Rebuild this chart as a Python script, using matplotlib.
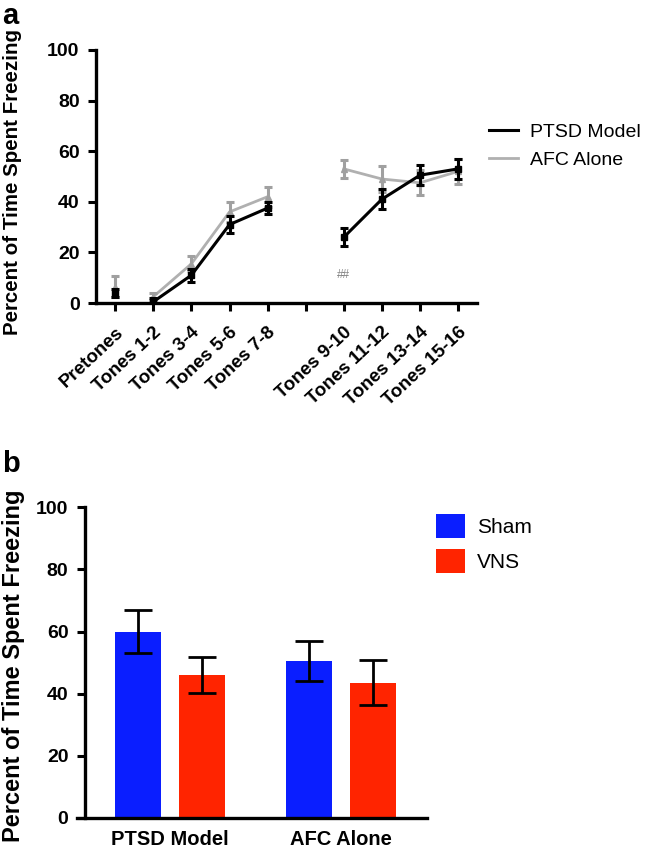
from matplotlib import pyplot as plt
import numpy as np

plt.rcParams['font.family'] = ['Liberation Sans', 'DejaVu Sans']

# panel a data
tone_labels = ['Pretones', 'Tones 1-2', 'Tones 3-4', 'Tones 5-6', 'Tones 7-8', '',
               'Tones 9-10', 'Tones 11-12', 'Tones 13-14', 'Tones 15-16']
ptsd_mean = [4, 0.5, 11, 31, 37.5, np.nan, 26, 41, 50.5, 53]
ptsd_sem = [1.5, 1.5, 2.5, 3.5, 2.5, np.nan, 3.5, 4, 4, 4]
afc_mean = [6.5, 2.5, 15.5, 36, 42, np.nan, 53, 49, 47.5, 52]
afc_sem = [4, 1.5, 3, 4, 4, np.nan, 3.5, 5, 5, 5]

# panel b data
conditions = ['PTSD Model', 'AFC Alone']
sham_mean = [60, 50.5]
sham_sem = [7, 6.5]
vns_mean = [46, 43.5]
vns_sem = [5.8, 7.2]


def style_axis(ax, size):
    for side in ['top', 'right']:
        ax.spines[side].set_visible(False)
    for side in ['left', 'bottom']:
        ax.spines[side].set_linewidth(2.4)
    ax.tick_params(width=2.2, length=6)
    ax.tick_params(axis='y', labelsize=size, pad=6)
    for lab in ax.get_yticklabels():
        lab.set_fontweight('bold')


def main():
    fig = plt.figure(figsize=(6.5, 8.55), dpi=100)

    # ---- panel a
    ax = fig.add_axes([0.148, 0.6456, 0.586, 0.296])
    x = np.arange(len(tone_labels))
    segments = [slice(1, 5), slice(6, 10)]
    for seg in segments:
        ax.plot(x[seg], np.array(afc_mean)[seg], color='#b0b0b0', lw=2, zorder=2)
        ax.plot(x[seg], np.array(ptsd_mean)[seg], color='black', lw=2.2, zorder=3)
    ax.errorbar(x, afc_mean, yerr=afc_sem, fmt='^', color='#a0a0a0', ms=4,
                elinewidth=2.2, capsize=3, capthick=2.2, zorder=2)
    ax.errorbar(x, ptsd_mean, yerr=ptsd_sem, fmt='s', color='black', ms=4,
                elinewidth=2.2, capsize=3, capthick=2.2, zorder=3)
    # legend handles
    ax.plot([], [], color='black', lw=2.2, label='PTSD Model')
    ax.plot([], [], color='#b0b0b0', lw=2, label='AFC Alone')
    ax.text(6, 11, '##', color='#808080', fontsize=8.5, ha='center', va='center')

    ax.set_xlim(-0.5, 9.5)
    ax.set_ylim(0, 100)
    ax.set_yticks([0, 20, 40, 60, 80, 100])
    ax.set_xticks(x)
    ax.set_xticklabels(tone_labels, rotation=43, ha='right', rotation_mode='anchor',
                       fontsize=13.5, fontweight='bold')
    ax.tick_params(axis='x', pad=9)
    ax.set_ylabel('Percent of Time Spent Freezing', fontsize=14.8, fontweight='bold')
    ax.yaxis.set_label_coords(-0.194, 0.478)
    style_axis(ax, 14)
    ax.legend(loc='upper left', bbox_to_anchor=(0.985, 0.78), frameon=False,
              fontsize=14, handlelength=1.5, handletextpad=0.6, labelspacing=0.55)
    fig.text(0.004, 0.998, 'a', fontsize=21, fontweight='bold', va='top')

    # ---- panel b
    bx = fig.add_axes([0.131, 0.0436, 0.526, 0.363])
    pos = np.arange(len(conditions))
    off = 0.187
    w = 0.27
    bx.bar(pos - off, sham_mean, width=w, color='#0a1eff', label='Sham', zorder=2)
    bx.bar(pos + off, vns_mean, width=w, color='#ff2400', label='VNS', zorder=2)
    bx.errorbar(pos - off, sham_mean, yerr=sham_sem, fmt='none', ecolor='black',
                elinewidth=2, capsize=10, capthick=2, zorder=3)
    bx.errorbar(pos + off, vns_mean, yerr=vns_sem, fmt='none', ecolor='black',
                elinewidth=2, capsize=10, capthick=2, zorder=3)
    bx.set_xlim(-0.497, 1.503)
    bx.set_ylim(0, 100)
    bx.set_yticks([0, 20, 40, 60, 80, 100])
    bx.set_xticks(pos)
    bx.set_xticklabels(conditions, fontsize=14.5, fontweight='bold')
    bx.set_ylabel('Percent of Time Spent Freezing', fontsize=17, fontweight='bold')
    bx.yaxis.set_label_coords(-0.175, 0.49)
    style_axis(bx, 14)
    bx.spines['bottom'].set_bounds(-0.545, 1.503)
    bx.tick_params(axis='x', length=0, pad=9)
    bx.legend(loc='upper left', bbox_to_anchor=(0.97, 1.04), frameon=False,
              fontsize=15, handlelength=1.4, handleheight=1.4, handletextpad=0.6,
              labelspacing=0.55)
    fig.text(0.004, 0.474, 'b', fontsize=21, fontweight='bold', va='top')

    fig.savefig('out.png', dpi=100)


if __name__ == "__main__":
    main()
